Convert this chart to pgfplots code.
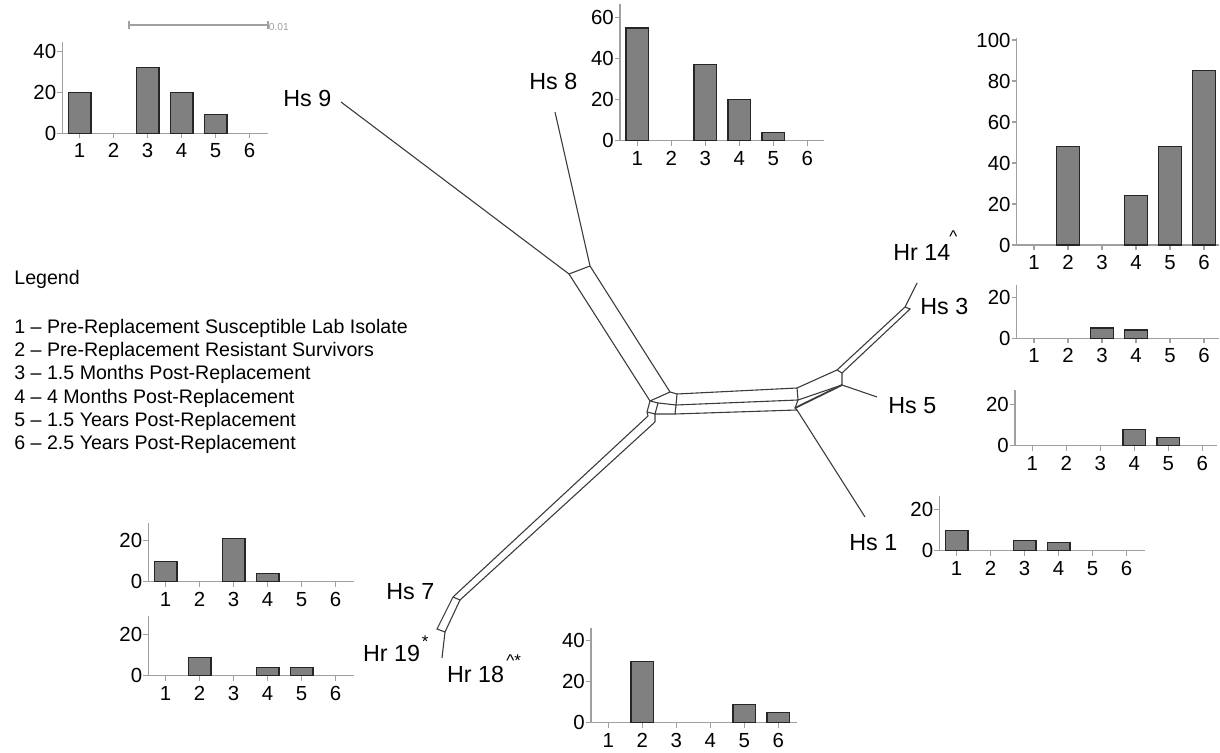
\documentclass[border=0pt]{standalone}
\usepackage{pgfplots}
\pgfplotsset{compat=1.18}
\usepackage{fontspec}
\setmainfont{Liberation Sans}
\definecolor{bargray}{HTML}{808080}
\definecolor{axgray}{HTML}{A0A0A0}
\definecolor{netc}{HTML}{3C3C3C}
\pgfplotsset{
  hist/.style={
    scale only axis, x=17pt, y=1.025pt, xmin=0.49, ymin=0,
    axis x line*=bottom, axis y line*=left,
    axis line style={axgray, line width=0.6pt},
    major tick style={axgray, line width=0.6pt},
    tick align=outside, major tick length=2.5pt,
    xtick={1,...,6},
    ticklabel style={font=\fontsize{10.2}{12}\selectfont, text=black, text height=7.3pt, text depth=0pt},
    xticklabel style={inner xsep=0pt, inner ysep=2.35pt},
    yticklabel style={inner xsep=0.4pt, inner ysep=0pt},
    /pgf/number format/assume math mode=true,
    anchor=south west, ybar, bar width=11.4pt, clip=false,
  },
  barstyle/.style={fill=bargray, draw=black!85, line width=0.65pt,
    y filter/.expression={y==0 ? nan : y}},
  net/.style={draw=netc, line width=0.55pt, mark=none},
}
\newcommand{\lab}[3]{\node[anchor=base west, inner sep=0pt, font=\fontsize{11.65}{13}\selectfont] at (axis cs:#1,#2) {#3};}
\newcommand{\suplab}[3]{\node[anchor=base west, inner sep=0pt, font=\fontsize{8.5}{10}\selectfont] at (axis cs:#1,#2) {#3};}
\newcommand{\leg}[2]{\node[anchor=base west, inner sep=0pt, font=\fontsize{9.8}{12}\selectfont] at (axis cs:14,#1) {#2};}
\begin{document}
\begin{tikzpicture}
% background: network, labels, legend (pixel coordinates)
\begin{axis}[at={(0pt,0pt)}, anchor=south west, scale only axis, width=610pt, height=376pt,
  xmin=0, xmax=1220, ymin=0, ymax=752, y dir=reverse, hide axis, clip=false]
\path (axis cs:0,0) rectangle (axis cs:1220,752);
% scale bar
\addplot[draw=axgray, line width=0.6pt, mark=none] coordinates {(129,25) (268,25)};
\addplot[draw=axgray, line width=0.6pt, mark=none] coordinates {(129,21) (129,29)};
\addplot[draw=axgray, line width=0.6pt, mark=none] coordinates {(268,21) (268,29)};
\node[anchor=west, inner sep=0pt, text=axgray, font=\fontsize{5.1}{6}\selectfont] at (axis cs:268.5,26.7) {0.01};
% network
\addplot[net] coordinates {(341,102) (569,274)};
\addplot[net] coordinates {(555,112) (590,266)};
\addplot[net] coordinates {(569,274) (590,266)};
\addplot[net] coordinates {(569,274) (650,401)};
\addplot[net] coordinates {(590,266) (670,392)};
\addplot[net] coordinates {(650,401) (670,392) (677,394) (676,405) (658,403) (650,401)};
\addplot[net] coordinates {(650,401) (647,412) (648,416)};
\addplot[net] coordinates {(658,403) (655,414) (675,414) (676,405)};
\addplot[net] coordinates {(647,412) (655,414) (655,422)};
\addplot[net] coordinates {(648,416) (453,597)};
\addplot[net] coordinates {(655,422) (460,600)};
\addplot[net] coordinates {(677,394) (797,388)};
\addplot[net] coordinates {(676,405) (798,400)};
\addplot[net] coordinates {(675,414) (797,410)};
\addplot[net] coordinates {(797,388) (837,370) (842,373) (842,385) (798,400) (797,388)};
\addplot[net] coordinates {(798,400) (795,408) (797,410)};
\addplot[net, line width=0.9pt] coordinates {(795,408) (842,385)};
\addplot[net] coordinates {(837,370) (905,307)};
\addplot[net] coordinates {(842,373) (908,311)};
\addplot[net] coordinates {(905,307) (910,309) (908,311)};
\addplot[net] coordinates {(905,307) (917,283)};
\addplot[net] coordinates {(842,385) (877,397)};
\addplot[net] coordinates {(797,410) (865,517)};
\addplot[net] coordinates {(453,597) (460,600)};
\addplot[net] coordinates {(453,597) (437,629) (445,632) (460,600)};
\addplot[net] coordinates {(445,632) (442,658)};
% node labels
\lab{283}{106.7}{Hs 9}
\lab{529}{90}{Hs 8}
\lab{893}{260.5}{Hr 14}
\suplab{949}{243}{\textasciicircum}
\lab{920}{314.3}{Hs 3}
\lab{888}{413.3}{Hs 5}
\lab{849}{551}{Hs 1}
\lab{386}{600}{Hs 7}
\lab{362.7}{661.7}{Hr 19}
\suplab{421.5}{647.3}{*}
\lab{446.7}{682.3}{Hr 18}
\suplab{506}{666.6}{\textasciicircum*}
% legend
\leg{284.3}{Legend}
\leg{333.3}{1 -- Pre-Replacement Susceptible Lab Isolate}
\leg{356.7}{2 -- Pre-Replacement Resistant Survivors}
\leg{380}{3 -- 1.5 Months Post-Replacement}
\leg{403.3}{4 -- 4 Months Post-Replacement}
\leg{426.7}{5 -- 1.5 Years Post-Replacement}
\leg{450}{6 -- 2.5 Years Post-Replacement}
\end{axis}
% A: Hs 9
\begin{axis}[hist, at={(31.15pt,309.35pt)}, xmax=6.53, ymax=44.3, ytick={0,20,40}]
\addplot[barstyle] coordinates {(1,20) (2,0) (3,32) (4,20) (5,9) (6,0)};
\end{axis}
% B: Hs 8
\begin{axis}[hist, at={(310pt,305.65pt)}, xmax=6.49, ymax=66.5, ytick={0,20,40,60}]
\addplot[barstyle] coordinates {(1,55) (2,0) (3,37) (4,20) (5,4) (6,0)};
\end{axis}
% C: Hr 14
\begin{axis}[hist, at={(508.35pt,253.5pt)}, xmax=6.44, ymax=101, ytick={0,20,40,60,80,100}]
\addplot[barstyle] coordinates {(1,0) (2,48) (3,0) (4,24) (5,48) (6,85)};
\end{axis}
% D: Hs 3
\begin{axis}[hist, at={(508.35pt,206.85pt)}, xmax=6.44, ymax=26, ytick={0,20}]
\addplot[barstyle] coordinates {(1,0) (2,0) (3,5) (4,4) (5,0) (6,0)};
\end{axis}
% E: Hs 5
\begin{axis}[hist, at={(507.5pt,153.15pt)}, xmax=6.44, ymax=27, ytick={0,20}]
\addplot[barstyle] coordinates {(1,0) (2,0) (3,0) (4,8) (5,4) (6,0)};
\end{axis}
% F: Hs 1
\begin{axis}[hist, at={(469.65pt,100.65pt)}, xmax=6.54, ymax=26.5, ytick={0,20}]
\addplot[barstyle] coordinates {(1,10) (2,0) (3,5) (4,4) (5,0) (6,0)};
\end{axis}
% G: Hs 7
\begin{axis}[hist, at={(74.15pt,85.15pt)}, xmax=6.53, ymax=28.5, ytick={0,20}]
\addplot[barstyle] coordinates {(1,10) (2,0) (3,21) (4,4) (5,0) (6,0)};
\end{axis}
% H: Hr 19
\begin{axis}[hist, at={(74.15pt,38.15pt)}, xmax=6.53, ymax=29, ytick={0,20}]
\addplot[barstyle] coordinates {(1,0) (2,9) (3,0) (4,4) (5,4) (6,0)};
\end{axis}
% I: Hr 18
\begin{axis}[hist, at={(295.5pt,14.65pt)}, xmax=6.54, ymax=46.4, ytick={0,20,40}]
\addplot[barstyle] coordinates {(1,0) (2,30) (3,0) (4,0) (5,9) (6,5)};
\end{axis}
\end{tikzpicture}
\end{document}
